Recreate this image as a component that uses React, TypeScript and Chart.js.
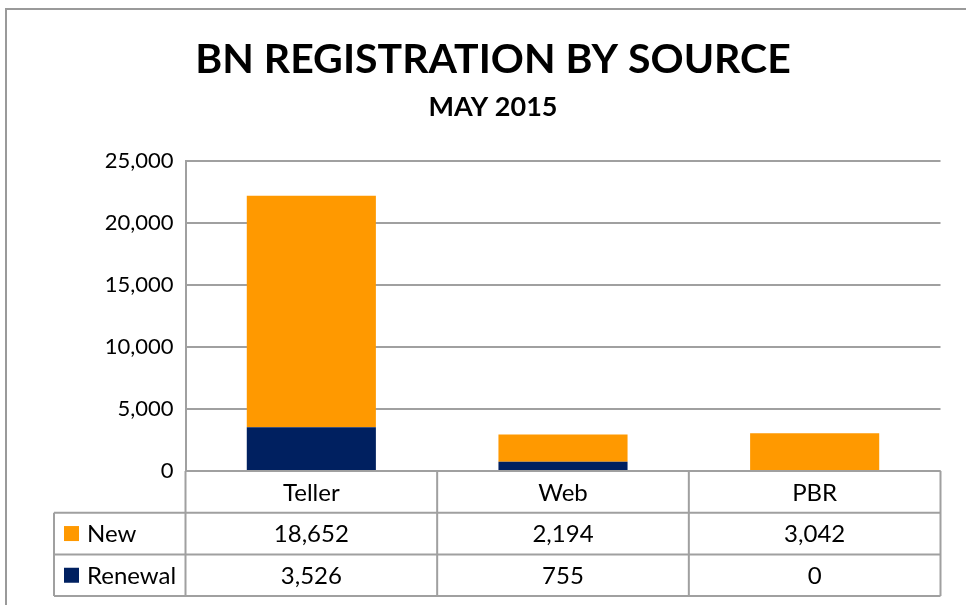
import React, { useEffect, useRef } from "react";
import { Chart, registerables } from "chart.js";

Chart.register(...registerables);

const categories = ["Teller", "Web", "PBR"];
const seriesNames = ["New", "Renewal"];
const newValues = [18652, 2194, 3042];
const renewalValues = [3526, 755, 0];
const yTicks = [0, 5000, 10000, 15000, 20000, 25000];

const ORANGE = "#FF9900";
const NAVY = "#002060";
const GRID = "#a0a0a0";
const FONT = 'Lato, "Liberation Sans", sans-serif';

const fmt = (v: number) => v.toLocaleString("en-US");

const framePlugin = {
  id: "frame",
  beforeDraw(chart: any) {
    const ctx = chart.ctx;
    ctx.save();
    ctx.fillStyle = "#ffffff";
    ctx.fillRect(0, 0, chart.width, chart.height);
    ctx.strokeStyle = "#9a9a9a";
    ctx.lineWidth = 2;
    ctx.beginPath();
    ctx.moveTo(6, chart.height + 5);
    ctx.lineTo(6, 9);
    ctx.lineTo(chart.width + 5, 9);
    ctx.stroke();
    ctx.restore();
  },
};

const tablePlugin = {
  id: "dataTable",
  afterDraw(chart: any) {
    const ctx = chart.ctx;
    const xs = chart.scales.x;
    const left = xs.left;
    const right = xs.right;
    const n = categories.length;
    const w = (right - left) / n;
    const top = chart.chartArea.bottom;
    const rowH = 41.7;
    const tableLeft = 54;
    const rows = [
      { name: seriesNames[0], color: ORANGE, values: newValues },
      { name: seriesNames[1], color: NAVY, values: renewalValues },
    ];
    const bottom = top + rowH * (rows.length + 1);

    ctx.save();
    ctx.strokeStyle = GRID;
    ctx.lineWidth = 2;
    ctx.beginPath();
    ctx.moveTo(left, top);
    ctx.lineTo(right, top);
    for (let r = 1; r <= rows.length + 1; r++) {
      const y = top + rowH * r;
      ctx.moveTo(tableLeft, y);
      ctx.lineTo(right, y);
    }
    ctx.moveTo(tableLeft, top + rowH);
    ctx.lineTo(tableLeft, bottom);
    for (let i = 0; i <= n; i++) {
      const x = left + w * i;
      ctx.moveTo(x, top);
      ctx.lineTo(x, bottom);
    }
    ctx.stroke();

    ctx.fillStyle = "#000";
    ctx.font = `24px ${FONT}`;
    ctx.textBaseline = "middle";
    ctx.textAlign = "center";
    for (let i = 0; i < n; i++) {
      const cx = xs.getPixelForValue(i);
      ctx.fillText(categories[i], cx, top + rowH / 2 + 1);
      rows.forEach((row, r) => {
        ctx.fillText(fmt(row.values[i]), cx, top + rowH * (r + 1) + rowH / 2 + 1);
      });
    }
    ctx.textAlign = "left";
    rows.forEach((row, r) => {
      const cy = top + rowH * (r + 1) + rowH / 2;
      ctx.fillStyle = row.color;
      ctx.fillRect(64, cy - 7.5, 15, 15);
      ctx.fillStyle = "#000";
      ctx.fillText(row.name, 87, cy + 1);
    });
    ctx.restore();
  },
};

export default function App() {
  const ref = useRef<HTMLCanvasElement>(null);

  useEffect(() => {
    if (!ref.current) return;
    const chart = new Chart(ref.current, {
      type: "bar",
      data: {
        labels: categories,
        datasets: [
          {
            label: seriesNames[1],
            data: renewalValues,
            backgroundColor: NAVY,
            categoryPercentage: 1,
            barPercentage: 0.513,
          },
          {
            label: seriesNames[0],
            data: newValues,
            backgroundColor: ORANGE,
            categoryPercentage: 1,
            barPercentage: 0.513,
          },
        ],
      },
      options: {
        animation: false,
        responsive: false,
        devicePixelRatio: 1,
        layout: { padding: { left: 45.5, right: 25.5, top: 0, bottom: 134 } },
        plugins: {
          legend: { display: false },
          tooltip: { enabled: false },
          title: {
            display: true,
            text: "BN REGISTRATION BY SOURCE",
            color: "#000",
            font: { family: FONT, size: 41, weight: "bold" },
            padding: { top: 35, bottom: 0 },
          },
          subtitle: {
            display: true,
            text: "MAY 2015",
            color: "#000",
            font: { family: FONT, size: 27, weight: "bold" },
            padding: { top: 7, bottom: 37 },
          },
        },
        scales: {
          x: {
            stacked: true,
            display: false,
            offset: true,
          },
          y: {
            stacked: true,
            min: 0,
            max: 25000,
            afterFit(scale: any) {
              scale.width = 140;
            },
            afterBuildTicks(scale: any) {
              scale.ticks = yTicks.map((v) => ({ value: v }));
            },
            ticks: {
              color: "#000",
              padding: 12,
              font: { family: FONT, size: 22 },
              callback: (v: any) => fmt(Number(v)),
            },
            grid: { color: GRID, lineWidth: 2, drawTicks: false },
            border: { display: true, color: GRID, width: 2 },
          },
        },
      },
      plugins: [framePlugin, tablePlugin],
    });
    return () => chart.destroy();
  }, []);

  return (
    <div style={{ position: "fixed", left: 0, top: 0, width: 966, height: 605 }}>
      <canvas ref={ref} width={966} height={605} style={{ display: "block" }} />
    </div>
  );
}
